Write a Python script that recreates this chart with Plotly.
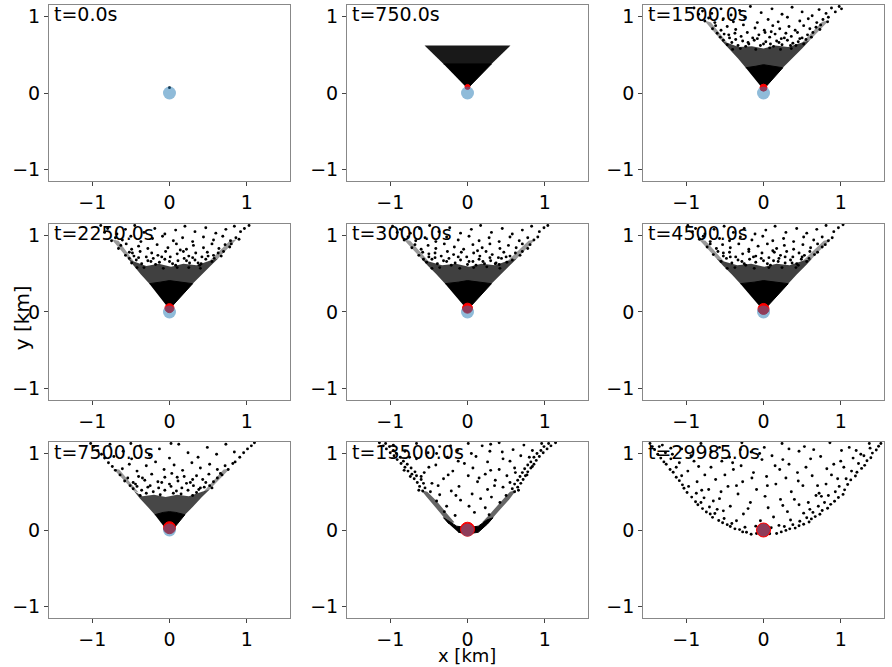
import plotly.graph_objects as go

# ---------------- data ----------------
times = [0.0, 750.0, 1500.0, 2250.0, 3000.0, 4500.0, 7500.0, 13500.0, 29985.0]
ticks = [-1, 0, 1]

# source position and red plume-centre marker per panel
src_x, src_y = 0.0, 0.0
red_y = [None, 0.08, 0.07, 0.05, 0.05, 0.04, 0.03, 0.01, 0.0]

# solid (fully black) part of each cloud, outline
core = [
    [],
    [(-0.02, 0.08), (0.02, 0.08), (0.31, 0.38), (-0.31, 0.38)],
    [(-0.02, 0.07), (0.02, 0.07), (0.25, 0.33), (0.10, 0.35), (0.0, 0.37), (-0.10, 0.35), (-0.23, 0.33)],
    [(-0.02, 0.06), (0.02, 0.06), (0.30, 0.37), (0.12, 0.39), (0.0, 0.41), (-0.12, 0.39), (-0.26, 0.37)],
    [(-0.02, 0.05), (0.02, 0.05), (0.31, 0.37), (0.12, 0.39), (0.0, 0.41), (-0.12, 0.39), (-0.29, 0.37)],
    [(-0.02, 0.04), (0.02, 0.04), (0.32, 0.37), (0.12, 0.39), (0.0, 0.41), (-0.12, 0.39), (-0.30, 0.37)],
    [(-0.03, -0.01), (0.03, -0.01), (0.20, 0.20), (0.08, 0.23), (0.0, 0.24), (-0.08, 0.23), (-0.19, 0.20)],
    [(-0.12, -0.03), (0.0, -0.05), (0.14, -0.03), (0.26, 0.08), (0.33, 0.16), (0.25, 0.13), (0.14, 0.05),
     (0.0, 0.03), (-0.14, 0.05), (-0.24, 0.12), (-0.31, 0.16), (-0.24, 0.08)],
    [],
]

# dense-but-speckled zones of each cloud
mid = [
    [],
    [[(-0.31, 0.38), (0.31, 0.38), (0.556, 0.62), (-0.556, 0.62)]],
    [[(-0.23, 0.33), (0.25, 0.33), (0.37, 0.45), (0.50, 0.58), (0.60, 0.69), (0.50, 0.66), (0.32, 0.60),
      (0.15, 0.62), (0.0, 0.58), (-0.15, 0.61), (-0.32, 0.60), (-0.48, 0.66), (-0.55, 0.69), (-0.45, 0.58),
      (-0.33, 0.45)]],
    [[(-0.26, 0.37), (0.30, 0.37), (0.42, 0.49), (0.54, 0.61), (0.63, 0.70), (0.52, 0.67), (0.35, 0.61),
      (0.18, 0.63), (0.02, 0.59), (-0.14, 0.63), (-0.30, 0.60), (-0.46, 0.66), (-0.54, 0.70), (-0.46, 0.60),
      (-0.37, 0.49)]],
    [[(-0.29, 0.37), (0.31, 0.37), (0.43, 0.49), (0.55, 0.61), (0.64, 0.70), (0.52, 0.67), (0.36, 0.61),
      (0.18, 0.63), (0.02, 0.59), (-0.15, 0.63), (-0.33, 0.61), (-0.50, 0.66), (-0.60, 0.70), (-0.51, 0.60),
      (-0.40, 0.49)]],
    [[(-0.30, 0.37), (0.32, 0.37), (0.43, 0.49), (0.55, 0.61), (0.63, 0.70), (0.51, 0.67), (0.34, 0.61),
      (0.17, 0.63), (0.01, 0.59), (-0.16, 0.63), (-0.34, 0.61), (-0.51, 0.66), (-0.61, 0.70), (-0.52, 0.60),
      (-0.41, 0.49)]],
    [[(-0.19, 0.20), (0.20, 0.20), (0.30, 0.30), (0.42, 0.43), (0.52, 0.53), (0.42, 0.50), (0.25, 0.44),
      (0.10, 0.46), (-0.05, 0.43), (-0.20, 0.46), (-0.35, 0.44), (-0.46, 0.51), (-0.38, 0.41), (-0.28, 0.30)]],
    [[(-0.24, 0.08), (-0.35, 0.22), (-0.52, 0.42), (-0.60, 0.52), (-0.52, 0.50), (-0.40, 0.38), (-0.27, 0.22),
      (-0.17, 0.10)],
     [(0.26, 0.08), (0.38, 0.22), (0.54, 0.40), (0.63, 0.52), (0.55, 0.50), (0.44, 0.38), (0.30, 0.22),
      (0.19, 0.10)]],
    [],
]

# thinner dense bands running up the cone edges
arms = [
    [],
    [],
    [[(-0.55, 0.69), (-0.77, 0.95), (-0.68, 0.92), (-0.47, 0.66)],
     [(0.60, 0.69), (0.85, 0.95), (0.76, 0.93), (0.50, 0.66)]],
    [[(-0.54, 0.70), (-0.75, 0.95), (-0.66, 0.93), (-0.46, 0.66)],
     [(0.63, 0.70), (0.87, 0.95), (0.78, 0.93), (0.52, 0.67)]],
    [[(-0.60, 0.70), (-0.83, 0.95), (-0.74, 0.93), (-0.50, 0.66)],
     [(0.64, 0.70), (0.88, 0.95), (0.79, 0.93), (0.52, 0.67)]],
    [[(-0.61, 0.70), (-0.84, 0.95), (-0.75, 0.93), (-0.51, 0.66)],
     [(0.63, 0.70), (0.87, 0.95), (0.78, 0.93), (0.51, 0.67)]],
    [[(-0.46, 0.51), (-0.73, 0.80), (-0.65, 0.79), (-0.40, 0.49)],
     [(0.52, 0.53), (0.78, 0.80), (0.70, 0.79), (0.44, 0.50)]],
    [],
    [],
]

# individual particles
pts = [
    [(0.0, 0.07)],
    [],
    [(-0.47, 0.63), (-0.41, 0.66), (-0.33, 0.62), (-0.27, 0.68), (-0.19, 0.64), (-0.12, 0.69), (-0.04, 0.62),
     (0.03, 0.67), (0.09, 0.64), (0.17, 0.68), (0.24, 0.63), (0.31, 0.69), (0.38, 0.65), (0.45, 0.67),
     (0.52, 0.64), (0.55, 0.70), (-0.52, 0.69), (-0.23, 0.61), (0.13, 0.61), (0.42, 0.62),
     (-0.56, 0.73), (-0.51, 0.77), (-0.44, 0.72), (-0.37, 0.78), (-0.29, 0.74), (-0.21, 0.79), (-0.14, 0.72),
     (-0.06, 0.76), (0.02, 0.79), (0.08, 0.73), (0.15, 0.77), (0.23, 0.71), (0.29, 0.78), (0.36, 0.74),
     (0.44, 0.79), (0.50, 0.72), (0.57, 0.76), (0.62, 0.73), (0.64, 0.79), (-0.60, 0.78),
     (-0.66, 0.84), (-0.62, 0.88), (-0.55, 0.82), (-0.47, 0.87), (-0.36, 0.83), (-0.26, 0.89), (-0.11, 0.85),
     (0.01, 0.82), (0.12, 0.88), (0.21, 0.84), (0.33, 0.87), (0.41, 0.82), (0.52, 0.88), (0.60, 0.84),
     (0.68, 0.86), (0.73, 0.83), (0.74, 0.89),
     (-0.76, 0.94), (-0.71, 0.98), (-0.63, 0.92), (-0.52, 0.97), (-0.39, 0.93), (-0.24, 0.99), (-0.08, 0.92),
     (0.06, 0.96), (0.19, 0.93), (0.31, 0.99), (0.47, 0.94), (0.58, 0.97), (0.69, 0.92), (0.77, 0.96),
     (0.83, 0.93), (0.84, 0.99),
     (-0.84, 1.03), (-0.79, 1.07), (-0.90, 1.11), (-0.67, 1.04), (-0.55, 1.10), (-0.42, 1.02), (-0.31, 1.08),
     (-0.17, 1.13), (-0.03, 1.05), (0.11, 1.10), (0.24, 1.03), (0.37, 1.12), (0.50, 1.06), (0.63, 1.01),
     (0.72, 1.09), (0.81, 1.04), (0.88, 1.11), (0.93, 1.06), (0.98, 1.13), (1.01, 1.10),
     (-0.30, 0.58), (-0.10, 0.57), (0.08, 0.59), (0.22, 0.57), (0.36, 0.58), (-0.40, 0.57), (-0.20, 0.66),
     (0.00, 0.64), (0.20, 0.66), (0.35, 0.62), (-0.36, 0.70), (-0.08, 0.71), (0.27, 0.72), (0.47, 0.71),
     (-0.45, 0.76), (0.10, 0.80)],
    [(-0.49, 0.64), (-0.43, 0.68), (-0.36, 0.63), (-0.28, 0.67), (-0.21, 0.70), (-0.13, 0.65), (-0.06, 0.69),
     (0.04, 0.63), (0.11, 0.67), (0.19, 0.70), (0.26, 0.64), (0.33, 0.68), (0.41, 0.63), (0.47, 0.69),
     (0.55, 0.66), (0.58, 0.70), (-0.52, 0.70), (-0.18, 0.62), (0.08, 0.61), (0.39, 0.61),
     (-0.57, 0.74), (-0.52, 0.78), (-0.46, 0.73), (-0.38, 0.79), (-0.30, 0.72), (-0.23, 0.77), (-0.15, 0.74),
     (-0.05, 0.79), (0.01, 0.72), (0.10, 0.76), (0.18, 0.79), (0.25, 0.73), (0.34, 0.77), (0.42, 0.72),
     (0.49, 0.78), (0.57, 0.74), (0.63, 0.77), (0.67, 0.73), (0.70, 0.79),
     (-0.66, 0.83), (-0.63, 0.87), (-0.56, 0.89), (-0.49, 0.82), (-0.40, 0.86), (-0.28, 0.83), (-0.16, 0.88),
     (-0.02, 0.84), (0.09, 0.89), (0.22, 0.82), (0.31, 0.87), (0.44, 0.84), (0.55, 0.89), (0.64, 0.83),
     (0.72, 0.88), (0.78, 0.85), (0.80, 0.89),
     (-0.75, 0.93), (-0.70, 0.97), (-0.61, 0.94), (-0.50, 0.99), (-0.37, 0.92), (-0.22, 0.96), (-0.09, 0.99),
     (0.05, 0.93), (0.17, 0.97), (0.30, 0.92), (0.44, 0.98), (0.57, 0.94), (0.69, 0.99), (0.79, 0.93),
     (0.86, 0.97), (0.90, 0.95),
     (-0.84, 1.04), (-0.80, 1.09), (-0.89, 1.13), (-0.68, 1.02), (-0.57, 1.08), (-0.45, 1.13), (-0.33, 1.04),
     (-0.19, 1.09), (-0.06, 1.02), (0.08, 1.07), (0.20, 1.12), (0.33, 1.05), (0.47, 1.10), (0.60, 1.03),
     (0.73, 1.08), (0.84, 1.12), (0.92, 1.05), (0.97, 1.09), (1.03, 1.13),
     (-0.33, 0.58), (-0.08, 0.57), (0.10, 0.58), (0.25, 0.58), (0.40, 0.57), (-0.42, 0.58), (-0.24, 0.66),
     (0.00, 0.66), (0.22, 0.67), (0.37, 0.64), (-0.40, 0.71), (-0.10, 0.72), (0.30, 0.71), (0.50, 0.73),
     (-0.48, 0.77), (0.14, 0.81)],
    [(-0.53, 0.65), (-0.46, 0.69), (-0.39, 0.63), (-0.31, 0.67), (-0.24, 0.70), (-0.16, 0.64), (-0.09, 0.68),
     (0.00, 0.62), (0.07, 0.66), (0.15, 0.69), (0.22, 0.63), (0.30, 0.67), (0.37, 0.64), (0.44, 0.70),
     (0.51, 0.65), (0.58, 0.68), (-0.57, 0.69), (-0.21, 0.61), (0.11, 0.61), (0.41, 0.62),
     (-0.63, 0.74), (-0.58, 0.78), (-0.50, 0.72), (-0.42, 0.77), (-0.34, 0.73), (-0.26, 0.79), (-0.18, 0.75),
     (-0.08, 0.78), (-0.01, 0.72), (0.08, 0.77), (0.16, 0.73), (0.24, 0.79), (0.32, 0.75), (0.40, 0.71),
     (0.47, 0.78), (0.55, 0.73), (0.62, 0.77), (0.68, 0.74), (0.71, 0.79),
     (-0.72, 0.84), (-0.68, 0.88), (-0.60, 0.82), (-0.51, 0.87), (-0.41, 0.83), (-0.30, 0.89), (-0.17, 0.85),
     (-0.05, 0.82), (0.07, 0.88), (0.19, 0.84), (0.29, 0.89), (0.42, 0.83), (0.53, 0.87), (0.63, 0.84),
     (0.71, 0.89), (0.78, 0.83), (0.81, 0.88),
     (-0.82, 0.94), (-0.77, 0.98), (-0.67, 0.93), (-0.55, 0.97), (-0.41, 0.92), (-0.27, 0.98), (-0.12, 0.94),
     (0.02, 0.99), (0.15, 0.93), (0.28, 0.97), (0.41, 0.92), (0.55, 0.98), (0.67, 0.93), (0.78, 0.97),
     (0.86, 0.94), (0.91, 0.98),
     (-0.91, 1.04), (-0.87, 1.08), (-0.97, 1.12), (-0.74, 1.03), (-0.62, 1.09), (-0.49, 1.13), (-0.37, 1.05),
     (-0.23, 1.10), (-0.09, 1.03), (0.05, 1.08), (0.17, 1.13), (0.31, 1.04), (0.45, 1.09), (0.58, 1.02),
     (0.71, 1.07), (0.83, 1.12), (0.93, 1.05), (0.99, 1.10), (1.04, 1.13),
     (-0.36, 0.58), (-0.10, 0.57), (0.08, 0.58), (0.25, 0.59), (0.42, 0.57), (-0.46, 0.57), (-0.27, 0.66),
     (0.02, 0.66), (0.20, 0.66), (0.36, 0.63), (-0.42, 0.71), (-0.12, 0.72), (0.29, 0.71), (0.50, 0.72),
     (-0.50, 0.76), (0.13, 0.80)],
    [(-0.55, 0.66), (-0.48, 0.70), (-0.41, 0.64), (-0.33, 0.68), (-0.25, 0.63), (-0.18, 0.69), (-0.10, 0.65),
     (-0.03, 0.70), (0.05, 0.63), (0.13, 0.67), (0.20, 0.70), (0.28, 0.64), (0.35, 0.68), (0.43, 0.63),
     (0.49, 0.69), (0.56, 0.66), (0.59, 0.70), (-0.23, 0.61), (0.09, 0.61), (0.45, 0.61),
     (-0.65, 0.75), (-0.59, 0.79), (-0.52, 0.73), (-0.44, 0.78), (-0.36, 0.72), (-0.27, 0.76), (-0.19, 0.79),
     (-0.10, 0.73), (-0.02, 0.77), (0.07, 0.71), (0.14, 0.78), (0.22, 0.74), (0.30, 0.79), (0.38, 0.72),
     (0.46, 0.77), (0.53, 0.74), (0.60, 0.79), (0.66, 0.75), (0.70, 0.78),
     (-0.73, 0.85), (-0.69, 0.89), (-0.61, 0.83), (-0.53, 0.88), (-0.43, 0.84), (-0.32, 0.89), (-0.19, 0.82),
     (-0.07, 0.86), (0.05, 0.89), (0.17, 0.83), (0.27, 0.87), (0.39, 0.82), (0.51, 0.88), (0.61, 0.84),
     (0.70, 0.89), (0.76, 0.85), (0.80, 0.88),
     (-0.83, 0.95), (-0.78, 0.99), (-0.69, 0.92), (-0.57, 0.96), (-0.44, 0.93), (-0.30, 0.98), (-0.15, 0.94),
     (-0.01, 0.99), (0.12, 0.93), (0.26, 0.96), (0.39, 0.92), (0.52, 0.98), (0.65, 0.94), (0.76, 0.98),
     (0.84, 0.93), (0.89, 0.97),
     (-0.92, 1.05), (-0.88, 1.09), (-0.98, 1.13), (-0.76, 1.02), (-0.64, 1.08), (-0.51, 1.12), (-0.39, 1.04),
     (-0.25, 1.09), (-0.11, 1.02), (0.03, 1.07), (0.15, 1.12), (0.29, 1.04), (0.43, 1.09), (0.56, 1.03),
     (0.69, 1.08), (0.81, 1.13), (0.91, 1.05), (0.97, 1.10), (1.03, 1.14),
     (-0.37, 0.58), (-0.12, 0.57), (0.07, 0.58), (0.24, 0.58), (0.42, 0.58), (-0.47, 0.57), (-0.28, 0.66),
     (0.00, 0.67), (0.19, 0.66), (0.37, 0.64), (-0.43, 0.72), (-0.13, 0.72), (0.28, 0.72), (0.50, 0.72),
     (-0.52, 0.77), (0.12, 0.80)],
    [(-0.47, 0.54), (-0.42, 0.57), (-0.36, 0.52), (-0.28, 0.56), (-0.21, 0.50), (-0.14, 0.55), (-0.06, 0.52),
     (0.02, 0.57), (0.09, 0.51), (0.16, 0.55), (0.24, 0.52), (0.31, 0.58), (0.38, 0.53), (0.45, 0.56),
     (0.52, 0.58), (0.55, 0.55), (-0.51, 0.58), (-0.30, 0.48), (0.05, 0.48), (0.35, 0.49),
     (-0.58, 0.64), (-0.54, 0.68), (-0.64, 0.72), (-0.47, 0.62), (-0.40, 0.70), (-0.32, 0.65), (-0.23, 0.73),
     (-0.15, 0.63), (-0.06, 0.69), (0.03, 0.74), (0.11, 0.64), (0.19, 0.70), (0.27, 0.62), (0.35, 0.71),
     (0.43, 0.66), (0.51, 0.73), (0.57, 0.63), (0.62, 0.68), (0.68, 0.72), (0.66, 0.74),
     (-0.70, 0.78), (-0.74, 0.83), (-0.79, 0.88), (-0.61, 0.80), (-0.52, 0.86), (-0.42, 0.77), (-0.30, 0.84),
     (-0.18, 0.89), (-0.07, 0.79), (0.06, 0.85), (0.17, 0.78), (0.29, 0.88), (0.40, 0.81), (0.52, 0.86),
     (0.62, 0.79), (0.72, 0.84), (0.76, 0.79), (0.82, 0.87), (0.85, 0.89),
     (-0.84, 0.94), (-0.88, 0.99), (-0.93, 1.04), (-0.98, 1.09), (-1.02, 1.13), (-0.72, 0.96), (-0.60, 1.03),
     (-0.49, 0.93), (-0.38, 1.10), (-0.26, 0.98), (-0.13, 1.06), (0.00, 0.94), (0.12, 1.12), (0.24, 1.01),
     (0.37, 0.95), (0.49, 1.08), (0.61, 0.99), (0.73, 1.12), (0.84, 1.02), (0.91, 0.95), (0.96, 1.01),
     (1.01, 1.06), (1.06, 1.10), (1.10, 1.14), (-0.77, 1.12), (0.02, 1.13), (-0.50, 1.13),
     (-0.38, 0.45), (-0.12, 0.46), (0.15, 0.47), (0.30, 0.45), (-0.25, 0.58), (0.00, 0.60), (0.22, 0.61),
     (0.40, 0.55), (-0.44, 0.60), (-0.10, 0.62), (0.30, 0.66), (0.47, 0.62), (-0.35, 0.68), (0.10, 0.69)],
    [(-0.58, 0.51), (-0.55, 0.55), (-0.62, 0.57), (-0.57, 0.61), (-0.65, 0.62), (-0.60, 0.66), (-0.69, 0.67),
     (-0.66, 0.71), (-0.72, 0.73), (-0.68, 0.76), (-0.77, 0.77), (-0.73, 0.81), (-0.81, 0.82), (-0.78, 0.86),
     (-0.86, 0.87), (-0.83, 0.90), (-0.91, 0.92), (-0.87, 0.95), (-0.95, 0.97), (-0.92, 1.00), (-1.00, 1.01),
     (-0.96, 1.04), (-1.05, 1.06), (-1.01, 1.09), (-1.09, 1.10), (-1.06, 1.13), (-1.14, 1.14), (-0.74, 0.70),
     (-0.63, 0.52), (-0.82, 0.78),
     (0.61, 0.50), (0.58, 0.54), (0.65, 0.56), (0.61, 0.60), (0.69, 0.61), (0.65, 0.65), (0.72, 0.66),
     (0.68, 0.70), (0.75, 0.71), (0.71, 0.75), (0.78, 0.76), (0.74, 0.80), (0.82, 0.81), (0.78, 0.85),
     (0.86, 0.86), (0.82, 0.89), (0.89, 0.91), (0.86, 0.95), (0.93, 0.96), (0.90, 1.00), (0.98, 1.01),
     (0.95, 1.04), (1.03, 1.06), (0.99, 1.09), (1.08, 1.10), (1.05, 1.13), (1.14, 1.14), (0.77, 0.72),
     (0.66, 0.52), (0.84, 0.83),
     (-0.16, 0.19), (0.09, 0.23), (0.23, 0.29), (-0.27, 0.31), (0.02, 0.31), (-0.09, 0.39), (0.17, 0.41),
     (0.31, 0.43), (-0.36, 0.46), (-0.21, 0.51), (0.06, 0.47), (0.26, 0.53), (0.46, 0.56), (-0.46, 0.61),
     (-0.11, 0.57), (0.13, 0.63), (0.36, 0.65), (-0.31, 0.67), (0.01, 0.71), (0.23, 0.73), (0.51, 0.71),
     (-0.56, 0.75), (-0.19, 0.77), (0.07, 0.81), (0.41, 0.79), (0.61, 0.81), (-0.41, 0.85), (-0.04, 0.87),
     (0.26, 0.89), (-0.66, 0.93), (-0.26, 0.95), (0.11, 0.96), (0.46, 0.93), (0.69, 0.97), (-0.81, 1.03),
     (-0.51, 1.01), (-0.13, 1.04), (0.29, 1.03), (0.59, 1.05), (0.84, 1.04), (-0.96, 1.11), (-0.66, 1.13),
     (-0.36, 1.09), (0.01, 1.13), (0.19, 1.10), (0.41, 1.14), (0.73, 1.11), (0.96, 1.13),
     (-0.30, 0.24), (0.28, 0.20), (-0.40, 0.38), (0.42, 0.36), (-0.48, 0.50), (0.50, 0.45), (-0.15, 0.45),
     (0.35, 0.58), (-0.38, 0.58), (0.55, 0.62), (-0.25, 0.72), (0.15, 0.68), (-0.50, 0.82), (0.30, 0.78),
     (-0.12, 0.90), (0.55, 0.90), (0.05, 1.00), (-0.40, 1.00), (0.45, 1.02), (0.80, 0.95), (-0.75, 0.95),
     (-0.22, 1.10), (0.30, 1.12), (-0.60, 0.70), (0.62, 0.75)],
    [(-0.16, -0.055), (-0.09, -0.045), (-0.22, -0.03), (-0.27, -0.025), (-0.31, 0.005), (-0.37, 0.015),
     (-0.43, 0.045), (-0.47, 0.07), (-0.53, 0.095), (-0.58, 0.125), (-0.66, 0.165), (-0.69, 0.21),
     (-0.74, 0.235), (-0.79, 0.28), (-0.85, 0.33), (-0.88, 0.37), (-0.93, 0.43), (-0.99, 0.49), (-1.03, 0.545),
     (-1.05, 0.59), (-1.09, 0.645), (-1.13, 0.69), (-1.17, 0.755), (-1.21, 0.79), (-1.26, 0.86), (-1.29, 0.89),
     (-1.33, 0.94), (-1.37, 0.99), (-1.41, 1.05), (-1.44, 1.09), (-1.47, 1.13),
     (-0.24, 0.035), (-0.41, 0.085), (-0.51, 0.15), (-0.63, 0.215), (-0.70, 0.30), (-0.81, 0.36), (-0.87, 0.48),
     (-0.97, 0.57), (-1.06, 0.71), (-1.13, 0.82), (-1.20, 0.93), (-1.27, 1.01), (-1.35, 1.09), (-0.60, 0.27),
     (-0.77, 0.42),
     (0.08, -0.05), (0.17, -0.045), (0.23, -0.025), (0.29, -0.005), (0.34, 0.015), (0.41, 0.025), (0.46, 0.055),
     (0.52, 0.075), (0.59, 0.105), (0.62, 0.145), (0.67, 0.175), (0.73, 0.205), (0.76, 0.255), (0.83, 0.285),
     (0.87, 0.335), (0.92, 0.375), (0.97, 0.425), (1.03, 0.465), (1.05, 0.525), (1.09, 0.595), (1.13, 0.655),
     (1.19, 0.705), (1.21, 0.755), (1.27, 0.805), (1.31, 0.845), (1.34, 0.905), (1.39, 0.945), (1.41, 1.005),
     (1.46, 1.045), (1.49, 1.095), (1.52, 1.13),
     (0.27, 0.045), (0.38, 0.07), (0.47, 0.115), (0.56, 0.16), (0.64, 0.23), (0.71, 0.31), (0.79, 0.36),
     (0.84, 0.45), (0.93, 0.50), (0.98, 0.57), (1.07, 0.67), (1.14, 0.77), (1.23, 0.87), (1.30, 0.97),
     (1.38, 1.07), (0.68, 0.45), (0.72, 0.48), (0.75, 0.44),
     (-0.04, 0.12), (0.13, 0.17), (-0.26, 0.21), (0.31, 0.24), (0.06, 0.29), (-0.43, 0.31), (0.46, 0.33),
     (-0.17, 0.36), (0.22, 0.40), (0.58, 0.36), (-0.57, 0.41), (-0.33, 0.47), (0.02, 0.44), (0.36, 0.50),
     (-0.71, 0.53), (-0.46, 0.57), (-0.09, 0.53), (0.16, 0.60), (0.51, 0.58), (0.81, 0.60), (-0.86, 0.63),
     (-0.62, 0.66), (-0.27, 0.63), (0.04, 0.70), (0.29, 0.68), (0.63, 0.71), (0.96, 0.67), (-0.98, 0.77),
     (-0.76, 0.72), (-0.39, 0.79), (-0.13, 0.75), (0.21, 0.79), (0.44, 0.75), (0.82, 0.80), (1.04, 0.82),
     (-1.09, 0.88), (-0.84, 0.83), (-0.54, 0.90), (-0.29, 0.84), (-0.02, 0.92), (0.33, 0.86), (0.61, 0.93),
     (0.91, 0.86), (1.16, 0.94), (-1.18, 0.99), (-0.94, 0.97), (-0.68, 1.02), (-0.44, 0.95), (-0.16, 1.02),
     (0.11, 0.97), (0.46, 1.03), (0.74, 0.96), (1.01, 1.04), (1.26, 0.99), (-1.31, 1.11), (-1.06, 1.06),
     (-0.81, 1.13), (-0.57, 1.08), (-0.28, 1.14), (0.01, 1.08), (0.24, 1.13), (0.53, 1.09), (0.86, 1.14),
     (1.11, 1.08), (1.37, 1.13),
     (0.10, 0.03), (0.20, 0.06), (-0.10, 0.05), (-0.35, 0.12), (0.35, 0.13), (-0.52, 0.25), (0.52, 0.22),
     (-0.20, 0.28), (0.25, 0.32), (-0.65, 0.38), (0.40, 0.40), (0.60, 0.27), (-0.80, 0.52), (-0.55, 0.50),
     (0.70, 0.58), (-0.35, 0.58), (0.05, 0.58), (-0.15, 0.68), (0.45, 0.64), (0.88, 0.72), (-0.50, 0.72),
     (-0.68, 0.82), (0.15, 0.84), (0.55, 0.82), (1.00, 0.90), (-0.40, 0.88), (-0.90, 0.90), (0.25, 0.92),
     (-0.30, 1.05), (0.33, 1.06), (0.65, 1.05), (-0.05, 1.00), (1.20, 1.04), (-1.20, 1.07)],
]

# ---------------- styles ----------------
mid_alpha = [0, 0.9, 0.75, 0.75, 0.75, 0.75, 0.72, 0.6, 0]
arm_alpha = 0.4
red_size = [0, 5, 7, 9, 10, 11, 12, 14, 14]
font = "DejaVu Sans"

xdom = [(0.0549, 0.3251), (0.389, 0.6592), (0.7209, 0.991)]
ydom = [(0.7286, 0.9925), (0.4003, 0.6642), (0.0735, 0.3373)]

fig = go.Figure()
annotations = []


def add_poly(poly, color, xa, ya):
    px, py = zip(*poly)
    fig.add_trace(go.Scatter(x=list(px), y=list(py), fill="toself", mode="none",
                             fillcolor=color, xaxis=xa, yaxis=ya, hoverinfo="skip"))


for k in range(9):
    r, c = divmod(k, 3)
    xa = "x" if k == 0 else f"x{k+1}"
    ya = "y" if k == 0 else f"y{k+1}"

    for poly in arms[k]:
        add_poly(poly, f"rgba(0,0,0,{arm_alpha})", xa, ya)
    for poly in mid[k]:
        add_poly(poly, f"rgba(0,0,0,{mid_alpha[k]})", xa, ya)
    if core[k]:
        cx, cy = zip(*core[k])
        fig.add_trace(go.Scatter(x=list(cx), y=list(cy), fill="toself", mode="lines",
                                 line=dict(color="black", width=1), fillcolor="black",
                                 xaxis=xa, yaxis=ya, hoverinfo="skip"))
    if pts[k]:
        px, py = zip(*pts[k])
        fig.add_trace(go.Scatter(x=list(px), y=list(py), mode="markers",
                                 marker=dict(color="black", size=2.9),
                                 xaxis=xa, yaxis=ya))
    if red_y[k] is not None:
        fig.add_trace(go.Scatter(x=[src_x], y=[red_y[k]], mode="markers",
                                 marker=dict(color="red", size=red_size[k],
                                             line=dict(color="red", width=1)),
                                 xaxis=xa, yaxis=ya))
    fig.add_trace(go.Scatter(x=[src_x], y=[src_y], mode="markers",
                             marker=dict(color="rgba(31,119,180,0.5)", size=13),
                             xaxis=xa, yaxis=ya))

    axis_common = dict(showgrid=False, zeroline=False, showline=True, mirror=True,
                       linecolor="#888888", linewidth=1, ticks="outside", ticklen=4,
                       tickcolor="#444444", tickvals=ticks,
                       tickfont=dict(family=font, size=19, color="black"))
    fig.update_layout({
        ("xaxis" if k == 0 else f"xaxis{k+1}"): dict(domain=list(xdom[c]), range=[-1.56, 1.56],
                                                   anchor=ya, **axis_common),
        ("yaxis" if k == 0 else f"yaxis{k+1}"): dict(domain=list(ydom[r]), range=[-1.15, 1.15],
                                                   anchor=xa, **axis_common),
    })
    annotations.append(dict(text=f"t={times[k]}s", xref=f"{xa} domain", yref=f"{ya} domain",
                            x=0.012, y=1.02, xanchor="left", yanchor="top", showarrow=False,
                            font=dict(family=font, size=19, color="black")))

annotations.append(dict(text="x [km]", xref="paper", yref="paper", x=0.5235, y=0.0,
                        xanchor="center", yanchor="bottom", borderpad=0,
                        showarrow=False, font=dict(family=font, size=18, color="black")))
annotations.append(dict(text="y [km]", xref="paper", yref="paper", x=0.0247, y=0.523,
                        xanchor="center", yanchor="middle", showarrow=False, textangle=-90,
                        font=dict(family=font, size=20, color="black")))

fig.update_layout(
    width=892, height=667,
    margin=dict(l=0, r=0, t=0, b=0),
    paper_bgcolor="white", plot_bgcolor="white",
    showlegend=False,
    annotations=annotations,
)

# the page's default body margin would shift the figure by 8px
fig.write_html("out.html", config={"displayModeBar": False},
               post_script="document.body.style.margin='0px';")
